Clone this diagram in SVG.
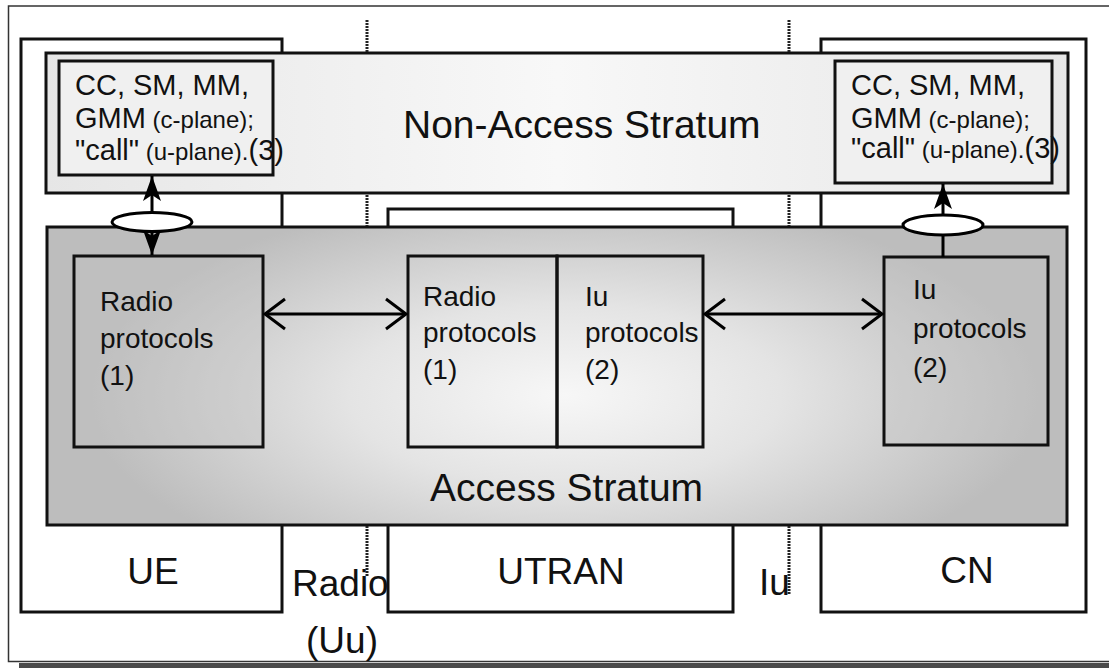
<svg xmlns="http://www.w3.org/2000/svg" width="1109" height="668" viewBox="0 0 1109 668">
<style>
  .box { stroke: #111; stroke-width: 3; }
  .t { font-family: "Liberation Sans", Arial, sans-serif; fill: #111; }
  .big { font-size: 37px; }
  .mid { font-size: 29px; }
  .sm { font-size: 24px; }
  .pr { font-size: 28px; }
  .dash { stroke: #222; stroke-width: 3; stroke-dasharray: 2 1; fill: none; }
  .conn { stroke: #000; stroke-width: 3; fill: none; }
</style>
<defs>
  <linearGradient id="nasGrad" x1="0" y1="0" x2="1" y2="0">
    <stop offset="0" stop-color="#e6e6e6"/>
    <stop offset="0.5" stop-color="#f8f8f8"/>
    <stop offset="1" stop-color="#e6e6e6"/>
  </linearGradient>
  <radialGradient id="asGrad" gradientUnits="userSpaceOnUse" cx="565" cy="395" r="480" gradientTransform="translate(565,395) scale(1,0.42) translate(-565,-395)">
    <stop offset="0" stop-color="#f7f7f7"/>
    <stop offset="0.45" stop-color="#e4e4e4"/>
    <stop offset="1" stop-color="#bdbdbd"/>
  </radialGradient>
  <marker id="open" markerUnits="userSpaceOnUse" markerWidth="24" markerHeight="34" refX="20" refY="15" orient="auto-start-reverse" overflow="visible">
    <polyline points="0,0 20,15 0,30" fill="none" stroke="#000" stroke-width="3"/>
  </marker>
  <marker id="solid" markerUnits="userSpaceOnUse" markerWidth="26" markerHeight="18" refX="25" refY="9" orient="auto-start-reverse" overflow="visible">
    <path d="M0,0 L25,9 L0,18 L6,9 Z" fill="#000"/>
  </marker>
</defs>

<g id="frame">
  <rect x="19" y="663" width="1100" height="6" fill="#4a4a4a"/>
  <rect x="8.5" y="6" width="1110" height="655.5" fill="#fff" stroke="#333" stroke-width="1.5"/>
</g>

<g id="ue">
  <rect class="box" x="21" y="39" width="261" height="573" fill="#fff"/>
  <text class="t big" x="153" y="584" text-anchor="middle">UE</text>
</g>

<g id="radio-label">
  <text class="t big" x="292" y="596">Radio</text>
  <text class="t big" x="342" y="653" text-anchor="middle">(Uu)</text>
</g>

<g id="utran">
  <rect class="box" x="388" y="209" width="345" height="403" fill="#fff"/>
  <text class="t big" x="561" y="584" text-anchor="middle">UTRAN</text>
</g>

<g id="iu-label">
  <text class="t big" x="759" y="595">Iu</text>
</g>

<g id="cn">
  <rect class="box" x="821" y="39" width="265" height="573" fill="#fff"/>
  <text class="t big" x="967" y="583" text-anchor="middle">CN</text>
</g>

<g id="nas">
  <rect class="box" x="46" y="53" width="1022" height="140" fill="url(#nasGrad)"/>
  <text class="t" font-size="39" x="403" y="138">Non-Access Stratum</text>
</g>

<g id="nas-ue">
  <rect class="box" x="59" y="61" width="214" height="114" fill="#f0f0f0"/>
  <text class="t mid" x="75" y="95">CC, SM, MM,</text>
  <text class="t" x="75" y="128"><tspan class="mid">GMM</tspan><tspan class="sm"> (c-plane);</tspan></text>
  <text class="t" x="75" y="160"><tspan class="mid">"call"</tspan><tspan class="sm"> (u-plane).</tspan><tspan class="mid">(3)</tspan></text>
</g>

<g id="nas-cn">
  <rect class="box" x="835" y="61" width="217" height="122" fill="#f0f0f0"/>
  <text class="t mid" x="851" y="95">CC, SM, MM,</text>
  <text class="t" x="851" y="128"><tspan class="mid">GMM</tspan><tspan class="sm"> (c-plane);</tspan></text>
  <text class="t" x="851" y="158"><tspan class="mid">"call"</tspan><tspan class="sm"> (u-plane).</tspan><tspan class="mid">(3)</tspan></text>
</g>

<g id="as">
  <rect class="box" x="47" y="227" width="1020" height="298" fill="url(#asGrad)"/>
  <text class="t" font-size="39" x="430" y="501">Access Stratum</text>
</g>

<g id="ue-radio-protocols">
  <rect class="box" x="74" y="256" width="189" height="191" fill="#c2c2c2" fill-opacity="0.35"/>
  <text class="t pr" x="100" y="311">Radio</text>
  <text class="t pr" x="100" y="348">protocols</text>
  <text class="t pr" x="100" y="385">(1)</text>
</g>

<g id="utran-radio-protocols">
  <rect class="box" x="408" y="256" width="149" height="191" fill="none"/>
  <text class="t pr" x="423" y="306">Radio</text>
  <text class="t pr" x="423" y="342">protocols</text>
  <text class="t pr" x="423" y="379">(1)</text>
</g>

<g id="utran-iu-protocols">
  <rect class="box" x="557" y="256" width="146" height="191" fill="none"/>
  <text class="t pr" x="585" y="306">Iu</text>
  <text class="t pr" x="585" y="342">protocols</text>
  <text class="t pr" x="585" y="379">(2)</text>
</g>

<g id="cn-iu-protocols">
  <rect class="box" x="884" y="257" width="164" height="188" fill="#c2c2c2" fill-opacity="0.35"/>
  <text class="t pr" x="913" y="299">Iu</text>
  <text class="t pr" x="913" y="338">protocols</text>
  <text class="t pr" x="913" y="377">(2)</text>
</g>

<g id="connectors">
  <line class="dash" x1="367" y1="20" x2="367" y2="52"/>
  <line class="dash" x1="367" y1="195" x2="367" y2="226"/>
  <line class="dash" x1="367" y1="526" x2="367" y2="577"/>
  <line class="dash" x1="789" y1="20" x2="789" y2="52"/>
  <line class="dash" x1="789" y1="195" x2="789" y2="226"/>
  <line class="dash" x1="789" y1="526" x2="789" y2="595"/>
  <line class="conn" x1="265" y1="314" x2="406" y2="314" marker-start="url(#open)" marker-end="url(#open)"/>
  <line class="conn" x1="705" y1="314" x2="882" y2="314" marker-start="url(#open)" marker-end="url(#open)"/>
  <line class="conn" x1="152" y1="176" x2="152" y2="255" marker-start="url(#solid)" marker-end="url(#solid)"/>
  <line class="conn" x1="943" y1="184" x2="943" y2="257" marker-start="url(#solid)"/>
</g>

<g id="sap-ue">
  <ellipse cx="152" cy="222" rx="40" ry="9.5" fill="#fff" stroke="#000" stroke-width="3"/>
</g>
<g id="sap-cn">
  <ellipse cx="943" cy="225" rx="40" ry="10" fill="#fff" stroke="#000" stroke-width="3"/>
</g>
</svg>
